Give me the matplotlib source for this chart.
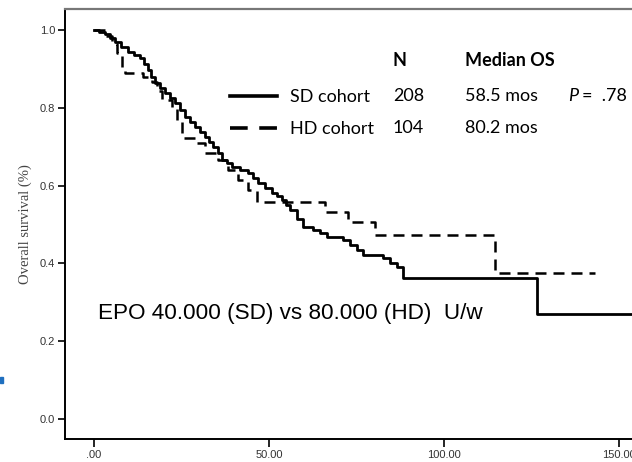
import matplotlib
matplotlib.use("Agg")
import matplotlib.pyplot as plt
from matplotlib.lines import Line2D
from matplotlib.patches import Rectangle


# Kaplan-Meier steps (months, survival fraction)
sd_time = [0, 1.5, 3.1, 4.5, 6.0, 7.8, 9.7, 11.5, 13.1, 14.3, 15.4, 16.4, 17.4,
           18.9, 20.3, 21.7, 23.1, 24.6, 26.0, 27.4, 28.9, 30.3, 31.7, 32.9,
           34.0, 35.3, 36.6, 38.0, 39.4, 41.7, 44.0, 45.5, 46.9, 48.9, 50.9,
           52.3, 53.7, 54.9, 56.0, 57.9, 59.7, 62.6, 64.5, 66.6, 71.1, 73.1,
           75.0, 76.9, 82.6, 84.5, 86.6, 88.3, 126.6, 162]
sd_surv = [1.0, 0.995, 0.990, 0.980, 0.969, 0.956, 0.943, 0.937, 0.928, 0.912,
           0.897, 0.880, 0.864, 0.851, 0.838, 0.825, 0.812, 0.794, 0.776, 0.763,
           0.751, 0.738, 0.725, 0.712, 0.699, 0.683, 0.666, 0.657, 0.648, 0.640,
           0.632, 0.619, 0.607, 0.594, 0.581, 0.572, 0.563, 0.550, 0.537, 0.515,
           0.494, 0.486, 0.477, 0.468, 0.460, 0.447, 0.434, 0.422, 0.414, 0.402,
           0.391, 0.362, 0.270, 0.270]

hd_time = [0, 3.0, 5.0, 6.6, 8.0, 8.9, 14.0, 16.6, 18.0, 19.4, 22.3, 23.7, 25.1,
           28.9, 31.7, 35.4, 38.3, 41.1, 44.0, 46.6, 66, 72.6, 80.3, 114.6, 143]
hd_surv = [1.0, 0.985, 0.965, 0.941, 0.905, 0.889, 0.878, 0.866, 0.843, 0.820,
           0.800, 0.769, 0.722, 0.710, 0.684, 0.666, 0.640, 0.614, 0.589, 0.558,
           0.532, 0.506, 0.473, 0.375, 0.375]

cohorts = ["SD cohort", "HD cohort"]
n_patients = ["208", "104"]
median_os = ["58.5 mos", "80.2 mos"]
p_value = ".78"

x_ticks = [0, 50, 100, 150]
x_tick_labels = [".00", "50.00", "100.00", "150.00"]
y_ticks = [0.0, 0.2, 0.4, 0.6, 0.8, 1.0]
y_tick_labels = ["0.0", "0.2", "0.4", "0.6", "0.8", "1.0"]

W, H = 632, 462
fig = plt.figure(figsize=(W / 100, H / 100), dpi=100)
# axes runs past the right edge of the figure, like the cropped original
ax = fig.add_axes([65 / W, 23 / H, 595 / W, 430 / H])
ax.set_xlim(-8.3, 161.7)
ax.set_ylim(-0.0514, 1.054)

ax.plot(sd_time, sd_surv, drawstyle="steps-post", color="black", lw=2.0)
ax.plot(hd_time, hd_surv, drawstyle="steps-post", color="black", lw=1.8,
        dashes=(4.4, 2.8))

ax.spines["right"].set_visible(False)
ax.spines["top"].set_color("#777777")
ax.spines["top"].set_linewidth(1.6)
ax.spines["left"].set_linewidth(1.4)
ax.spines["bottom"].set_linewidth(1.4)

ax.set_xticks(x_ticks)
ax.set_xticklabels(x_tick_labels, fontsize=8, family="Liberation Sans",
                   color="#333333")
ax.set_yticks(y_ticks)
ax.set_yticklabels(y_tick_labels, fontsize=8, family="Liberation Sans",
                   color="#333333")
ax.tick_params(axis="both", direction="out", length=5, width=1.2, pad=2)
ax.tick_params(axis="x", length=6)

ax.set_ylabel("Overall survival (%)", family="Liberation Serif", fontsize=10.5,
              color="#444444", labelpad=6)

fs = 13
# legend block
handles = [Line2D([], [], color="black", lw=2.6),
           Line2D([], [], color="black", lw=2.6, dashes=(4.9, 3.2))]
leg = ax.legend(handles, cohorts, loc="upper left",
                bbox_to_anchor=(165 / 595, 1 - 80 / 430), frameon=False,
                prop={"family": "Lato", "size": fs}, handlelength=2.6,
                handletextpad=0.7, labelspacing=0.89, borderaxespad=0,
                borderpad=0)

tx = ax.transAxes
def ax_x(px):
    return (px - 65) / 595
def ax_y(py):
    return 1 - (py - 9) / 430

ax.text(ax_x(393), ax_y(60), "N", transform=tx, family="Lato",
        fontweight="bold", fontsize=fs, va="center")
ax.text(ax_x(465), ax_y(60), "Median OS", transform=tx, family="Lato",
        fontweight="bold", fontsize=fs, va="center")
for i, (n, m) in enumerate(zip(n_patients, median_os)):
    yy = ax_y(96 + 32 * i)
    ax.text(ax_x(393), yy, n, transform=tx, family="Lato", fontsize=fs,
            va="center")
    ax.text(ax_x(465), yy, m, transform=tx, family="Lato", fontsize=fs,
            va="center")
ax.text(ax_x(568), ax_y(96), "P", transform=tx, family="Lato", style="italic",
        fontsize=fs, va="center")
ax.text(ax_x(582), ax_y(96), "=  " + p_value, transform=tx, family="Lato",
        fontsize=fs, va="center")

ax.text(ax_x(98), ax_y(313), "EPO 40.000 (SD) vs 80.000 (HD)  U/w", transform=tx,
        family="Liberation Sans", fontsize=16.2, va="center")

# small blue mark on the left edge
fig.patches.append(Rectangle((0, 1 - 383 / H), 3 / W, 6 / H,
                             transform=fig.transFigure, color="#1f6fbf"))

fig.savefig("out.png", dpi=100)
